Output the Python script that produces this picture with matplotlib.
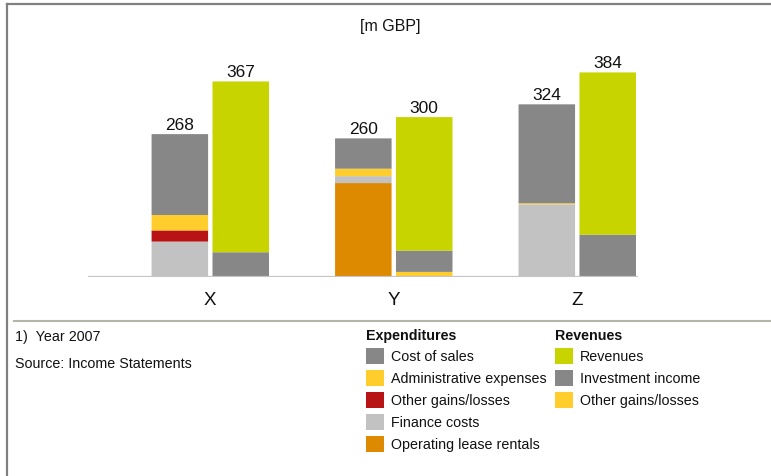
import matplotlib
matplotlib.use("Agg")
import matplotlib.pyplot as plt
from matplotlib.patches import Rectangle
from matplotlib.lines import Line2D

plt.rcParams['font.family'] = ['Liberation Sans', 'DejaVu Sans']

categories = ['X', 'Y', 'Z']
unit_label = '[m GBP]'

# Expenditures (stack order bottom -> top)
exp_names = ['Operating lease rentals', 'Finance costs', 'Other gains/losses',
             'Administrative expenses', 'Cost of sales']
op_lease = [0, 176, 0]
finance_costs = [66, 13, 136]
other_gl_exp = [21, 0, 0]
admin_exp = [29, 14, 2]
cost_of_sales = [152, 57, 186]
exp_values = [op_lease, finance_costs, other_gl_exp, admin_exp, cost_of_sales]
exp_colors = ['#DD8A00', '#C2C2C2', '#B81416', '#FFCD2C', '#878787']

# Revenues (stack order bottom -> top)
rev_names = ['Other gains/losses', 'Investment income', 'Revenues']
other_gl_rev = [0, 9, 0]
investment_income = [46, 40, 79]
revenues = [321, 251, 305]
rev_values = [other_gl_rev, investment_income, revenues]
rev_colors = ['#FFCD2C', '#878787', '#C8D400']

footnote = '1)  Year 2007'
source = 'Source: Income Statements'

W, H = 771, 477
fig = plt.figure(figsize=(W / 100, H / 100), dpi=100)

def fx(px):
    return px / W

def fy(py):
    return 1 - py / H

# frame lines
fig.add_artist(Line2D([fx(7), fx(7)], [fy(5), 0], color='#808080', lw=1.6))
fig.add_artist(Line2D([fx(7), 1], [fy(5), fy(5)], color='#808080', lw=1.6))
fig.add_artist(Line2D([fx(14), 1], [fy(322), fy(322)], color='#B4B4AA', lw=1.5))

# axes
base_px = 277.7
ymax = 400
px_per_unit = 0.532
ax = fig.add_axes([fx(88), (H - base_px) / H, fx(638) - fx(88), ymax * px_per_unit / H])
ax.set_xlim(-0.6665, 2.331)
ax.set_ylim(0, ymax)
ax.axis('off')

bw = 0.308
off = 0.166
xs = list(range(len(categories)))

bottom = [0] * len(categories)
for vals, col in zip(exp_values, exp_colors):
    bars = ax.bar([x - off for x in xs], vals, bw, bottom=bottom, color=col, linewidth=0)
    for b in bars:
        b.set_snap(False)
    bottom = [b + v for b, v in zip(bottom, vals)]
exp_tot = bottom

bottom = [0] * len(categories)
for vals, col in zip(rev_values, rev_colors):
    bars = ax.bar([x + off for x in xs], vals, bw, bottom=bottom, color=col, linewidth=0)
    for b in bars:
        b.set_snap(False)
    bottom = [b + v for b, v in zip(bottom, vals)]
rev_tot = bottom

for x, t in zip(xs, exp_tot):
    ax.text(x - off, t + 4, f'{t:.0f}', ha='center', va='bottom', fontsize=12.5,
            color='#111111', clip_on=False)
for x, t in zip(xs, rev_tot):
    ax.text(x + off, t + 4, f'{t:.0f}', ha='center', va='bottom', fontsize=12.5,
            color='#111111', clip_on=False)

ax.axhline(0, color='#C4C4C4', lw=1.6, zorder=5)

for x, c in zip(xs, categories):
    ax.text(x, -42, c, ha='center', va='center', fontsize=13.5, color='#111111',
            clip_on=False)

fig.text(fx(390), fy(27), unit_label, ha='center', va='center', fontsize=11.5,
         color='#111111')

fig.text(fx(15), fy(337), footnote, ha='left', va='center', fontsize=10.3, color='#111111')
fig.text(fx(15), fy(364), source, ha='left', va='center', fontsize=10.3, color='#111111')

# legends
def legend_block(x0, title, names, colors):
    fig.text(fx(x0), fy(336), title, ha='left', va='center', fontsize=10.3,
             fontweight='bold', color='#111111')
    for i, (n, c) in enumerate(zip(names, colors)):
        yc = 357 + 22 * i
        fig.add_artist(Rectangle((fx(x0), fy(yc + 8)), fx(18), 16 / H,
                                 facecolor=c, edgecolor='none'))
        fig.text(fx(x0 + 25), fy(yc), n, ha='left', va='center', fontsize=10.3,
                 color='#111111')

legend_block(366, 'Expenditures', exp_names[::-1], exp_colors[::-1])
legend_block(555, 'Revenues', rev_names[::-1], rev_colors[::-1])

fig.savefig('out.png', dpi=100)
